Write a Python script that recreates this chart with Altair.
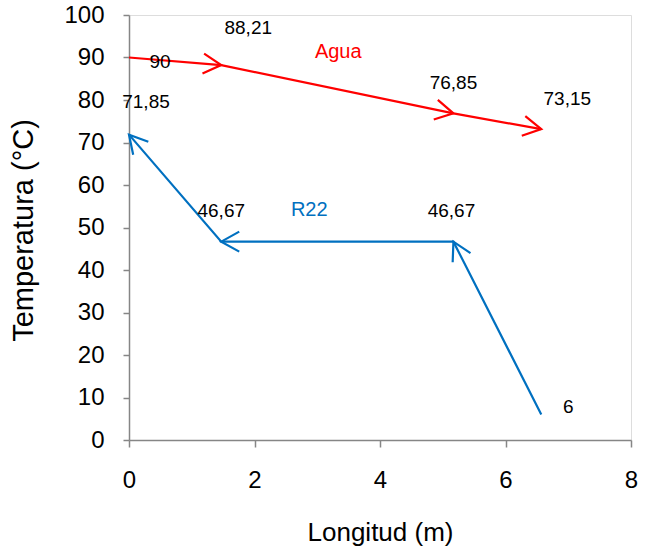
import math
import altair as alt
import pandas as pd

# ---- data ----
x_agua = [0, 1.47, 5.17, 6.57]
t_agua = [90, 88.21, 76.85, 73.15]
lbl_agua = ["90", "88,21", "76,85", "73,15"]

x_r22 = [6.57, 5.17, 1.47, 0]
t_r22 = [6, 46.67, 46.67, 71.85]
lbl_r22 = ["6", "46,67", "46,67", "71,85"]

series_names = ["Agua", "R22"]
series_colors = ["#FF0000", "#0070C0"]

# ---- layout ----
W, H = 502, 425
XMAX, YMAX = 8, 100
FONT = "Liberation Sans"

rows = []
for name, xs, ys, lbs in [("Agua", x_agua, t_agua, lbl_agua), ("R22", x_r22, t_r22, lbl_r22)]:
    for i, (x, y, l) in enumerate(zip(xs, ys, lbs)):
        ang = None
        if i > 0:
            dx = (x - xs[i - 1]) * W / XMAX
            dy = -(y - ys[i - 1]) * H / YMAX
            ang = math.degrees(math.atan2(dy, dx)) % 360
        rows.append({"serie": name, "i": i, "x": x, "y": y, "lbl": l, "ang": ang})
df = pd.DataFrame(rows)

xs = alt.X("x:Q", scale=alt.Scale(domain=[0, XMAX], nice=False),
           axis=alt.Axis(values=[0, 2, 4, 6, 8], format="d", title="Longitud (m)", grid=False,
                         domainColor="#868686", domainWidth=1.5, tickColor="#868686",
                         tickWidth=1.5, tickSize=7, labelFontSize=24, labelFont=FONT,
                         labelColor="black", labelPadding=21, labelFlush=False, titleFont=FONT,
                         titleFontSize=26, titleFontWeight="normal", titleColor="black",
                         titleX=W / 2, titleY=92, titleBaseline="middle", titleAlign="center"))
ys = alt.Y("y:Q", scale=alt.Scale(domain=[0, YMAX], nice=False),
           axis=alt.Axis(values=list(range(0, 101, 10)), format="d", title="Temperatura (°C)",
                         grid=False, domainColor="#868686", domainWidth=1.5, tickColor="#868686",
                         tickWidth=1.5, tickSize=6, labelFontSize=24, labelFont=FONT,
                         labelColor="black", labelPadding=19, labelFlush=False, titleFont=FONT,
                         titleFontSize=29, titleFontWeight="normal", titleColor="black",
                         titleX=-106, titleY=215, titleBaseline="middle", titleAlign="center",
                         titleAngle=270))
color = alt.Color("serie:N", scale=alt.Scale(domain=series_names, range=series_colors), legend=None)

base = alt.Chart(df)
lines = base.mark_line(strokeWidth=2.2).encode(x=xs, y=ys, color=color, order="i:Q", detail="serie:N")
arrows = base.transform_filter("datum.i > 0").mark_point(
    shape="M -1 -0.555 L 0 0 L -1 0.555", size=1296, filled=False, strokeWidth=2.2, opacity=1
).encode(x="x:Q", y="y:Q", color=color, angle=alt.Angle("ang:Q", scale=None))

# label offsets (style)
offsets = {
    ("Agua", 0): (31, 4), ("Agua", 1): (27, -37), ("Agua", 2): (0, -30), ("Agua", 3): (26, -30),
    ("R22", 0): (27, -8), ("R22", 1): (-2, -31), ("R22", 2): (0, -31), ("R22", 3): (17, -33),
}
layers = [lines, arrows]
for (s, i), (ddx, ddy) in offsets.items():
    layers.append(
        base.transform_filter(f"datum.serie == '{s}' && datum.i == {i}")
        .mark_text(font=FONT, fontSize=19, color="black", dx=ddx, dy=ddy, baseline="middle")
        .encode(x="x:Q", y="y:Q", text="lbl:N")
    )
# series name labels
layers.append(
    base.transform_filter("datum.serie == 'Agua' && datum.i == 1")
    .mark_text(font=FONT, fontSize=20, color=series_colors[0], dx=117, dy=-13, baseline="middle")
    .encode(x="x:Q", y="y:Q", text="serie:N")
)
layers.append(
    base.transform_filter("datum.serie == 'R22' && datum.i == 2")
    .mark_text(font=FONT, fontSize=20, color=series_colors[1], dx=88, dy=-32, baseline="middle")
    .encode(x="x:Q", y="y:Q", text="serie:N")
)

chart = alt.layer(*layers).properties(
    width=W, height=H,
    autosize=alt.AutoSizeParams(type="none"),
    padding={"left": 129, "top": 15, "right": 22, "bottom": 110},
).configure_view(stroke=None).configure(background="white")

chart.save("out.html", embed_options={"renderer": "svg", "actions": False})
